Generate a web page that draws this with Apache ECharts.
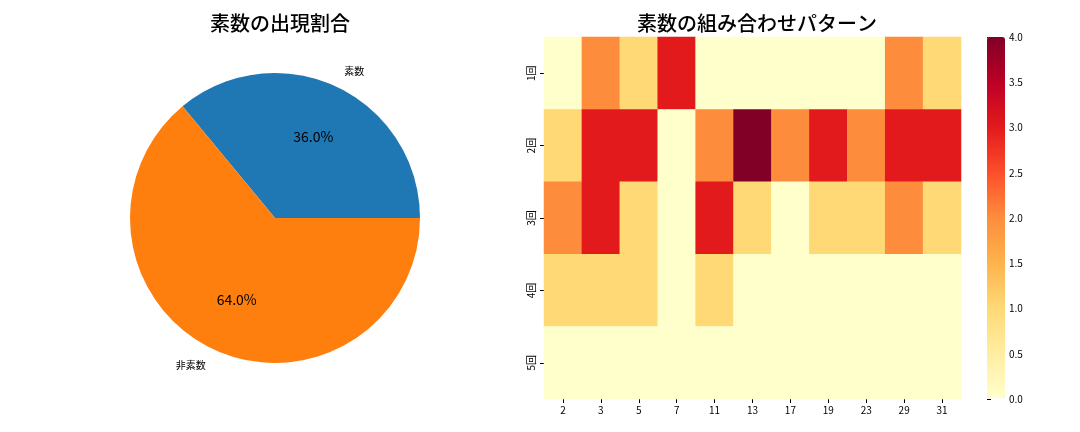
<!DOCTYPE html>
<html>
<head>
<meta charset="utf-8">
<script src="https://cdn.jsdelivr.net/npm/echarts@6/dist/echarts.min.js"></script>
<style>
  html, body { margin: 0; padding: 0; background: #fff; }
  #chart { width: 1080px; height: 432px; }
</style>
</head>
<body>
<div id="chart"></div>
<script>
// 円グラフ
var pieNames = ['素数', '非素数'];
var pieValues = [36, 64];
var pieColors = ['#1f77b4', '#ff7f0e'];

// ヒートマップ
var primes = ['2', '3', '5', '7', '11', '13', '17', '19', '23', '29', '31'];
var counts = ['1回', '2回', '3回', '4回', '5回'];
var row1 = [0, 2, 1, 3, 0, 0, 0, 0, 0, 2, 1];
var row2 = [1, 3, 3, 0, 2, 4, 2, 3, 2, 3, 3];
var row3 = [2, 3, 1, 0, 3, 1, 0, 1, 1, 2, 1];
var row4 = [1, 1, 1, 0, 1, 0, 0, 0, 0, 0, 0];
var row5 = [0, 0, 0, 0, 0, 0, 0, 0, 0, 0, 0];
var colorbarTicks = [0, 0.5, 1, 1.5, 2, 2.5, 3, 3.5, 4];

var ylOrRd = ['#ffffcc', '#ffeda0', '#fed976', '#feb24c', '#fd8d3c', '#fc4e2a', '#e31a1c', '#bd0026', '#800026'];
var FONT = '"Noto Sans CJK JP", "DejaVu Sans", sans-serif';

var rows = [row1, row2, row3, row4, row5];
var heatData = [];
for (var r = 0; r < rows.length; r++) {
    for (var c = 0; c < primes.length; c++) {
        heatData.push([c, r, rows[r][c]]);
    }
}

var total = pieValues[0] + pieValues[1];
var R = 145;
var cx = 275, cy = 218;

// 外側ラベル（matplotlib風に左右寄せ）
var outerData = pieNames.map(function (n, i) {
    var w = n.length * 10;
    return {
        name: n, value: pieValues[i],
        label: { padding: i === 0 ? [0, 0, 0, w] : [0, w, 0, 0] }
    };
});
var pctData = pieNames.map(function (n, i) {
    return { name: n, value: pieValues[i] };
});

var myChart = echarts.init(document.getElementById('chart'));
var option = {
    backgroundColor: '#fff',
    animation: false,
    textStyle: { fontFamily: FONT },
    title: [{
        text: '素数の出現割合',
        left: cx, top: 8, textAlign: 'center',
        textStyle: { fontFamily: FONT, fontSize: 20, fontWeight: 500, color: '#000' }
    }, {
        text: '素数の組み合わせパターン',
        left: 752, top: 8, textAlign: 'center',
        textStyle: { fontFamily: FONT, fontSize: 20, fontWeight: 500, color: '#000' }
    }],
    grid: [{
        left: 544, right: 119, top: 37, bottom: 33, containLabel: false
    }, {
        left: 987, width: 18, top: 37, bottom: 33, containLabel: false
    }],
    xAxis: [{
        type: 'category', gridIndex: 0, data: primes,
        axisLine: { show: false },
        axisTick: { show: true, alignWithLabel: true, length: 4, lineStyle: { color: '#000' } },
        axisLabel: { color: '#000', fontSize: 10, margin: 6, fontFamily: FONT },
        splitLine: { show: false }
    }, {
        type: 'value', gridIndex: 1, show: false, min: 0, max: 1,
        axisLine: { show: false }, axisTick: { show: false },
        axisLabel: { show: false }, splitLine: { show: false }
    }],
    yAxis: [{
        type: 'category', gridIndex: 0, data: counts, inverse: true,
        axisLine: { show: false },
        axisTick: { show: true, alignWithLabel: true, length: 4, lineStyle: { color: '#000' } },
        axisLabel: { color: '#000', fontSize: 10, rotate: 90, margin: 8, fontFamily: FONT },
        splitLine: { show: false }
    }, {
        type: 'value', gridIndex: 1, position: 'right', min: 0, max: 4, interval: 0.5,
        axisLine: { show: false },
        axisTick: { show: true, length: 4, lineStyle: { color: '#000' } },
        axisLabel: {
            color: '#000', fontSize: 10, margin: 4, fontFamily: FONT,
            formatter: function (v) { return v.toFixed(1); }
        },
        splitLine: { show: false }
    }],
    visualMap: {
        type: 'continuous', min: 0, max: 4,
        seriesIndex: 3,
        calculable: false, show: true, hoverLink: false,
        left: 987, top: 37, itemWidth: 18, itemHeight: 361,
        padding: 0, showLabel: false,
        inRange: { color: ylOrRd }
    },
    series: [{
        type: 'pie', center: [cx, cy], radius: [0, R],
        startAngle: 0, clockwise: false,
        data: pieNames.map(function (n, i) {
            return { name: n, value: pieValues[i], itemStyle: { color: pieColors[i] } };
        }),
        label: { show: false }, labelLine: { show: false },
        emphasis: { disabled: true }, silent: true
    }, {
        // 割合ラベル（半径0.6の位置）
        type: 'pie', center: [cx, cy], radius: [R * 0.2, R],
        startAngle: 0, clockwise: false, silent: true,
        itemStyle: { color: 'rgba(0,0,0,0)' },
        data: pctData,
        label: {
            show: true, position: 'inside', color: '#000', fontSize: 14, fontFamily: FONT,
            formatter: function (p) { return (p.value / total * 100).toFixed(1) + '%'; }
        },
        labelLine: { show: false }, emphasis: { disabled: true }
    }, {
        // 名前ラベル（半径1.1の位置）
        type: 'pie', center: [cx, cy], radius: [R * 1.0, R * 1.2],
        startAngle: 0, clockwise: false, silent: true,
        itemStyle: { color: 'rgba(0,0,0,0)' },
        data: outerData,
        label: {
            show: true, position: 'inside', color: '#000', fontSize: 10, fontFamily: FONT,
            formatter: '{b}'
        },
        labelLine: { show: false }, emphasis: { disabled: true }
    }, {
        type: 'heatmap', xAxisIndex: 0, yAxisIndex: 0,
        data: heatData,
        label: { show: false },
        itemStyle: { borderWidth: 0 },
        emphasis: { disabled: true }
    }]
};
myChart.setOption(option);
</script>
</body>
</html>
